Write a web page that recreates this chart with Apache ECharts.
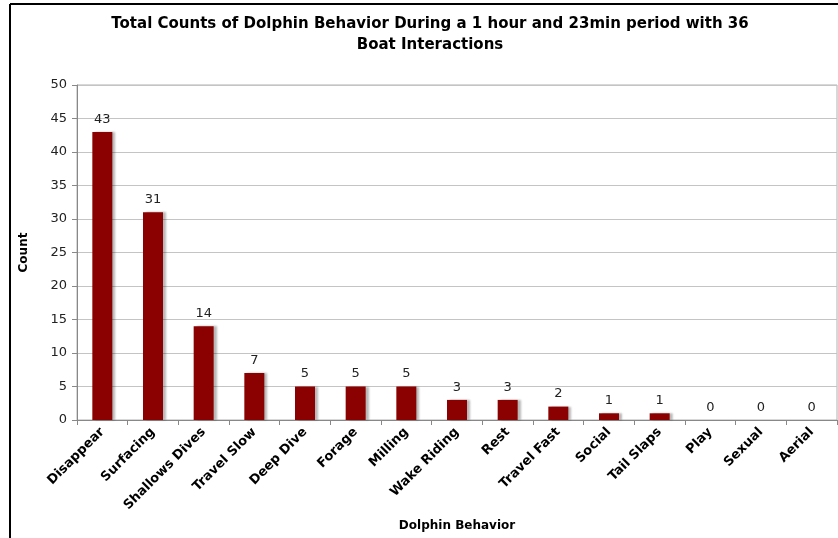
<!DOCTYPE html>
<html>
<head>
<meta charset="utf-8">
<script src="https://cdn.jsdelivr.net/npm/echarts@6/dist/echarts.min.js"></script>
<style>
  html, body { margin: 0; padding: 0; background: #fff; }
  #chart { width: 838px; height: 538px; }
</style>
</head>
<body>
<div id="chart"></div>
<script>
// 行为类别
var categories = [
  "Disappear", "Surfacing", "Shallows Dives", "Travel Slow", "Deep Dive",
  "Forage", "Milling", "Wake Riding", "Rest", "Travel Fast",
  "Social", "Tail Slaps", "Play", "Sexual", "Aerial"
];
// 次数
var counts = [43, 31, 14, 7, 5, 5, 5, 3, 3, 2, 1, 1, 0, 0, 0];
var yTicks = [0, 5, 10, 15, 20, 25, 30, 35, 40, 45, 50];

var font = "Verdana, 'DejaVu Sans', sans-serif";
var myChart = echarts.init(document.getElementById("chart"));
var option = {
  backgroundColor: "#ffffff",
  animation: false,
  title: {
    text: "Total Counts of Dolphin Behavior During a 1 hour and 23min period with 36\nBoat Interactions",
    left: 425,
    textAlign: "center",
    top: 9,
    textStyle: {
      fontFamily: font,
      fontSize: 15,
      fontWeight: "bold",
      color: "#000",
      lineHeight: 21
    }
  },
  graphic: [
    { type: "line", shape: { x1: 10, y1: 4, x2: 838, y2: 4 }, style: { stroke: "#000", lineWidth: 2 } },
    { type: "line", shape: { x1: 10, y1: 4, x2: 10, y2: 538 }, style: { stroke: "#000", lineWidth: 2 } }
  ],
  grid: {
    left: 77,
    right: 1,
    top: 85,
    bottom: 118,
    outerBoundsMode: "none",
    containLabel: false,
    show: true,
    borderColor: "#b0b0b0",
    borderWidth: 1
  },
  xAxis: {
    type: "category",
    data: categories,
    name: "Dolphin Behavior",
    nameLocation: "middle",
    nameGap: 100,
    nameTextStyle: { fontFamily: font, fontSize: 12, fontWeight: "bold", color: "#000" },
    axisLine: { lineStyle: { color: "#888" } },
    axisTick: { show: true, length: 5, lineStyle: { color: "#888" } },
    axisLabel: {
      rotate: 45,
      interval: 0,
      margin: 10,
      fontFamily: font,
      fontSize: 13,
      fontWeight: "bold",
      color: "#000"
    }
  },
  yAxis: {
    type: "value",
    min: yTicks[0],
    max: yTicks[yTicks.length - 1],
    interval: yTicks[1] - yTicks[0],
    name: "Count",
    nameLocation: "middle",
    nameGap: 47,
    nameTextStyle: { fontFamily: font, fontSize: 12, fontWeight: "bold", color: "#000" },
    axisLine: { show: true, lineStyle: { color: "#888" } },
    axisTick: { show: true, length: 5, lineStyle: { color: "#888" } },
    splitLine: { lineStyle: { color: "#c4c4c4", width: 1 } },
    axisLabel: { fontFamily: font, fontSize: 13, color: "#222", margin: 10 }
  },
  series: [
    {
      type: "bar",
      data: counts,
      barWidth: 20,
      itemStyle: {
        color: "#8b0000",
        shadowColor: "rgba(0,0,0,0.28)",
        shadowOffsetX: 3,
        shadowOffsetY: 0,
        shadowBlur: 2
      },
      label: {
        show: true,
        position: "top",
        distance: 6,
        fontFamily: font,
        fontSize: 13,
        color: "#222"
      }
    }
  ]
};
myChart.setOption(option);
</script>
</body>
</html>
